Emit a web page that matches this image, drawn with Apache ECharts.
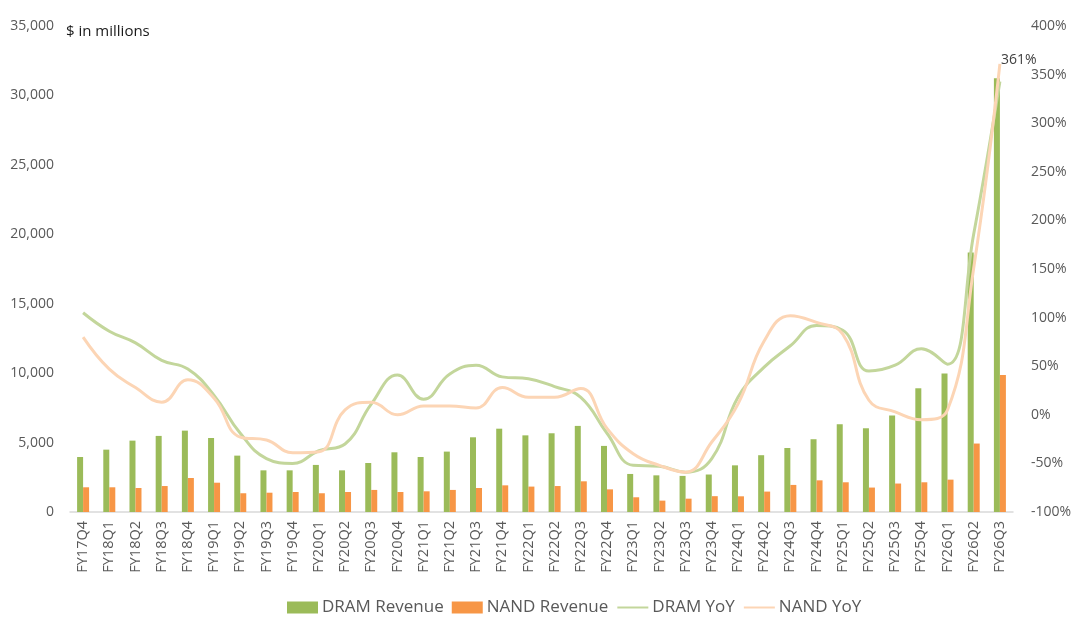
<!DOCTYPE html>
<html>
<head>
<meta charset="utf-8">
<script src="https://cdn.jsdelivr.net/npm/echarts@6/dist/echarts.min.js"></script>
<style>
  html, body { margin: 0; padding: 0; background: #fff; }
  #chart { width: 1080px; height: 627px; }
</style>
</head>
<body>
<div id="chart"></div>
<script>
// quarters on the x axis
var quarters = ['FY17Q4',
  'FY18Q1', 'FY18Q2', 'FY18Q3', 'FY18Q4',
  'FY19Q1', 'FY19Q2', 'FY19Q3', 'FY19Q4',
  'FY20Q1', 'FY20Q2', 'FY20Q3', 'FY20Q4',
  'FY21Q1', 'FY21Q2', 'FY21Q3', 'FY21Q4',
  'FY22Q1', 'FY22Q2', 'FY22Q3', 'FY22Q4',
  'FY23Q1', 'FY23Q2', 'FY23Q3', 'FY23Q4',
  'FY24Q1', 'FY24Q2', 'FY24Q3', 'FY24Q4',
  'FY25Q1', 'FY25Q2', 'FY25Q3', 'FY25Q4',
  'FY26Q1', 'FY26Q2', 'FY26Q3']

// revenue, $ in millions
var dramRevenue = [3960,
  4490, 5140, 5480, 5860,
  5330, 4060, 3000, 3000,
  3390, 3000, 3530, 4300,
  3960, 4350, 5380, 6000,
  5520, 5670, 6200, 4760,
  2740, 2640, 2600, 2700,
  3360, 4090, 4610, 5240,
  6320, 6030, 6950, 8910,
  9970, 18690, 31230]
var nandRevenue = [1780,
  1780, 1730, 1870, 2450,
  2110, 1350, 1390, 1440,
  1350, 1440, 1590, 1440,
  1490, 1590, 1730, 1920,
  1830, 1870, 2210, 1630,
  1060, 820, 960, 1140,
  1130, 1470, 1950, 2280,
  2140, 1760, 2050, 2140,
  2330, 4930, 9870]

// year over year growth, %
var dramYoY = [105,
  86, 74, 56, 47,
  20, -19, -45, -50,
  -37, -30, 11, 41,
  16, 42, 51, 39,
  37, 29, 18, -19,
  -52, -53, -59, -45,
  18, 49, 71, 92,
  87, 45, 51, 68,
  52, 186, 343]
var nandYoY = [80,
  47, 28, 13, 36,
  17, -23, -26, -39,
  -38, 5, 13, 0,
  9, 9, 7, 28,
  18, 18, 27, -14,
  -40, -52, -59, -28,
  11, 76, 102, 95,
  83, 15, 3, -5,
  5, 151, 361]

var leftTicks = { min: 0, max: 35000, interval: 5000 }
var rightTicks = { min: -100, max: 400, interval: 50 }

var myChart = echarts.init(document.getElementById('chart'))
var font = '"Open Sans", "Noto Sans", sans-serif'

var option = {
  animation: false,
  textStyle: { fontFamily: font },
  title: {
    text: '$ in millions',
    left: 61,
    top: 19,
    textStyle: { fontSize: 15, fontWeight: 'normal', color: '#1a1a1a', fontFamily: font }
  },
  grid: { left: 70, right: 67, top: 26, bottom: 115 },
  legend: {
    bottom: 6,
    left: 282,
    itemGap: 8,
    itemWidth: 31,
    itemHeight: 12,
    textStyle: { fontSize: 17, color: '#595959', padding: [0, 0, 0, -1] },
    data: [
      { name: 'DRAM Revenue', icon: 'rect' },
      { name: 'NAND Revenue', icon: 'rect' },
      { name: 'DRAM YoY', itemStyle: { opacity: 0 } },
      { name: 'NAND YoY', itemStyle: { opacity: 0 } }
    ]
  },
  xAxis: {
    type: 'category',
    data: quarters,
    axisLine: { lineStyle: { color: '#d9d9d9', width: 1.5 } },
    axisTick: { show: false },
    axisLabel: { rotate: 90, fontSize: 14.5, color: '#595959', margin: 9, interval: 0 }
  },
  yAxis: [
    {
      type: 'value',
      min: leftTicks.min,
      max: leftTicks.max,
      interval: leftTicks.interval,
      splitLine: { show: false },
      axisLine: { show: false },
      axisTick: { show: false },
      axisLabel: {
        fontSize: 14,
        color: '#595959',
        margin: 16,
        formatter: function (v) { return v.toLocaleString('en-US') }
      }
    },
    {
      type: 'value',
      min: rightTicks.min,
      max: rightTicks.max,
      interval: rightTicks.interval,
      splitLine: { show: false },
      axisLine: { show: false },
      axisTick: { show: false },
      axisLabel: {
        fontSize: 14,
        color: '#595959',
        margin: 18,
        formatter: function (v) { return v + '%' }
      }
    }
  ],
  series: [
    {
      name: 'DRAM Revenue',
      type: 'bar',
      data: dramRevenue,
      barWidth: 6,
      barGap: '0%',
      itemStyle: { color: '#9bbb59' }
    },
    {
      name: 'NAND Revenue',
      type: 'bar',
      data: nandRevenue,
      barWidth: 6,
      itemStyle: { color: '#f79646' }
    },
    {
      name: 'DRAM YoY',
      type: 'line',
      yAxisIndex: 1,
      data: dramYoY,
      smooth: 0.45,
      showSymbol: false,
      lineStyle: { color: '#c3d69b', width: 3 },
      itemStyle: { color: '#c3d69b' }
    },
    {
      name: 'NAND YoY',
      type: 'line',
      yAxisIndex: 1,
      smooth: 0.45,
      symbol: 'circle',
      symbolSize: 0,
      showAllSymbol: true,
      lineStyle: { color: '#fcd5b5', width: 3 },
      itemStyle: { color: '#fcd5b5' },
      data: nandYoY.map(function (v, i) {
        if (i === nandYoY.length - 1) {
          return {
            value: v,
            label: {
              show: true,
              position: 'top',
              offset: [19, 8],
              fontSize: 14,
              color: '#404040',
              formatter: function (p) { return p.value + '%' }
            }
          }
        }
        return v
      })
    }
  ]
}
myChart.setOption(option)
</script>
</body>
</html>
